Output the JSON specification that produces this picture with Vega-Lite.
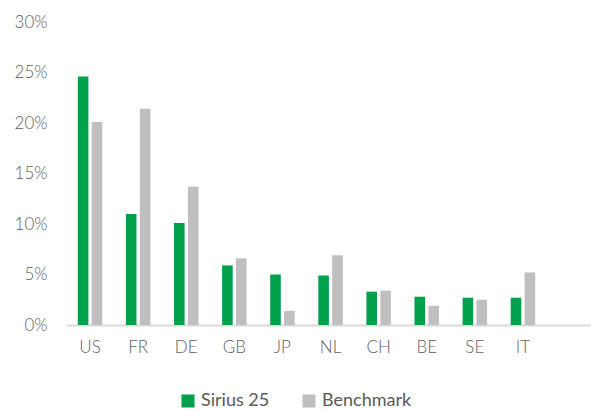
{
  "$schema": "https://vega.github.io/schema/vega-lite/v6.json",
  "width": 524,
  "height": 303,
  "autosize": {"type": "none"},
  "padding": {"left": 66, "top": 22, "right": 3, "bottom": 85},
  "background": "white",
  "config": {"view": {"stroke": null}},
  "data": {
    "values": [
      {"country": "US", "series": "Sirius 25", "value": 0.246},
      {"country": "US", "series": "Benchmark", "value": 0.201},
      {"country": "FR", "series": "Sirius 25", "value": 0.110},
      {"country": "FR", "series": "Benchmark", "value": 0.214},
      {"country": "DE", "series": "Sirius 25", "value": 0.101},
      {"country": "DE", "series": "Benchmark", "value": 0.137},
      {"country": "GB", "series": "Sirius 25", "value": 0.059},
      {"country": "GB", "series": "Benchmark", "value": 0.066},
      {"country": "JP", "series": "Sirius 25", "value": 0.050},
      {"country": "JP", "series": "Benchmark", "value": 0.014},
      {"country": "NL", "series": "Sirius 25", "value": 0.049},
      {"country": "NL", "series": "Benchmark", "value": 0.069},
      {"country": "CH", "series": "Sirius 25", "value": 0.033},
      {"country": "CH", "series": "Benchmark", "value": 0.034},
      {"country": "BE", "series": "Sirius 25", "value": 0.028},
      {"country": "BE", "series": "Benchmark", "value": 0.019},
      {"country": "SE", "series": "Sirius 25", "value": 0.027},
      {"country": "SE", "series": "Benchmark", "value": 0.025},
      {"country": "IT", "series": "Sirius 25", "value": 0.027},
      {"country": "IT", "series": "Benchmark", "value": 0.052}
    ]
  },
  "mark": {"type": "bar"},
  "encoding": {
    "x": {
      "field": "country",
      "type": "nominal",
      "sort": ["US", "FR", "DE", "GB", "JP", "NL", "CH", "BE", "SE", "IT"],
      "scale": {"paddingInner": 0, "paddingOuter": 0.447, "align": 0},
      "axis": {
        "title": null,
        "labelAngle": 0,
        "ticks": false,
        "domainColor": "#d9d9d9",
        "domainWidth": 2,
        "labelFont": "Lato",
        "labelFontWeight": 300,
        "labelFontSize": 17,
        "labelColor": "#606060",
        "labelPadding": 14
      }
    },
    "xOffset": {
      "field": "series",
      "type": "nominal",
      "sort": ["Sirius 25", "Benchmark"],
      "scale": {"paddingInner": 0.237, "paddingOuter": 0.85}
    },
    "y": {
      "field": "value",
      "type": "quantitative",
      "scale": {"domain": [0, 0.3]},
      "axis": {
        "title": null,
        "format": ".0%",
        "values": [0, 0.05, 0.1, 0.15, 0.2, 0.25, 0.3],
        "grid": false,
        "domain": false,
        "ticks": false,
        "labelFont": "Lato",
        "labelFontWeight": 300,
        "labelFontSize": 17,
        "labelColor": "#606060",
        "labelPadding": 19
      }
    },
    "color": {
      "field": "series",
      "type": "nominal",
      "sort": ["Sirius 25", "Benchmark"],
      "scale": {"domain": ["Sirius 25", "Benchmark"], "range": ["#00a14b", "#bfbfbf"]},
      "legend": {
        "title": null,
        "orient": "none",
        "direction": "horizontal",
        "legendX": 113,
        "legendY": 370,
        "symbolType": "square",
        "symbolSize": 170,
        "symbolStrokeWidth": 0,
        "labelFont": "Lato",
        "labelFontSize": 18,
        "labelColor": "#595959",
        "labelOffset": 4,
        "columnPadding": 30
      }
    }
  }
}
